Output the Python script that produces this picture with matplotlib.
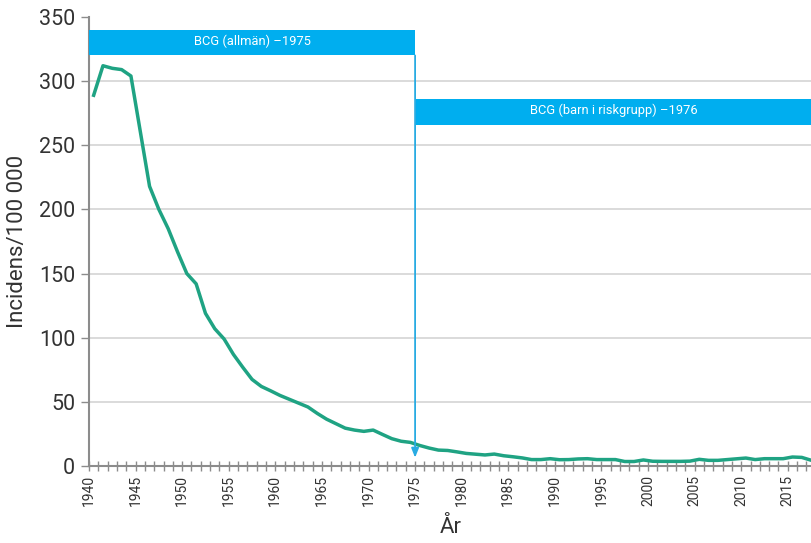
import numpy as np
import matplotlib
matplotlib.use("Agg")
import matplotlib.pyplot as plt
from matplotlib.patches import Rectangle

# Incidence per 100 000, Sweden, 1940-2017
years = np.arange(1940, 2018)
incidence = [
    289, 312, 310, 309, 304, 261, 218, 200, 185, 167,   # 1940-1949
    150, 142, 119, 107, 99, 87, 77, 67.5, 62, 58.6,     # 1950-1959
    55, 52, 49, 46, 41, 36.5, 33, 29.5, 28, 27,         # 1960-1969
    28, 24.6, 21.3, 19.3, 18.4, 16, 14, 12.4, 12.1, 11, # 1970-1979
    9.8, 9.2, 8.6, 9.3, 8.0, 7.2, 6.3, 5.0, 5.0, 5.7,   # 1980-1989
    4.9, 5.0, 5.5, 5.7, 5.0, 5.0, 5.0, 3.5, 3.5, 4.7,   # 1990-1999
    3.7, 3.6, 3.6, 3.6, 3.8, 5.2, 4.4, 4.4, 5.0, 5.6,   # 2000-2009
    6.2, 5.0, 5.7, 5.7, 5.7, 7.0, 6.7, 4.5,             # 2010-2017
]

# Vaccination programmes: (label, start, end, band bottom, band top)
programmes = [
    ("BCG (allmän) \u20131975", 1940, 1975, 320, 340),
    ("BCG (barn i riskgrupp) \u20131976", 1975, 2017.6, 266, 286),
]
change_year = 1975

ylabel = "Incidens/100 000"
xlabel = "År"
yticks = [0, 50, 100, 150, 200, 250, 300, 350]
xlabel_years = np.arange(1940, 2016, 5)

FONT = ["Roboto", "DejaVu Sans"]
plt.rcParams["font.family"] = FONT

LINE = "#1fa383"
BLUE = "#00aeef"
ARROW = "#29abe2"
AXIS = "#8c8c8c"
TEXT = "#333333"

fig = plt.figure(figsize=(8.12, 5.43), dpi=100)
ax = fig.add_axes([89 / 812, 77 / 543, 1 - 89 / 812, (466 - 17) / 543])

# Annual values placed at mid-year
ax.plot(years + 0.5, incidence, color=LINE, lw=2.5, solid_joinstyle="round", zorder=3)

ax.set_xlim(1940, 2017.6)
ax.set_ylim(0, 350)

# Grid
for v in yticks[1:-1]:
    ax.axhline(v, color="#d4d4d4", lw=1.2, zorder=1)

# Programme bands
for label, x0, x1, y0, y1 in programmes:
    ax.add_patch(Rectangle((x0, y0), x1 - x0, y1 - y0, facecolor=BLUE,
                           edgecolor="none", zorder=4, clip_on=False))
    ax.text((x0 + x1) / 2, (y0 + y1) / 2 + 1, label, color="white",
            ha="center", va="center", fontsize=9.3, zorder=5)

# Arrow marking programme change
ax.annotate("", xy=(change_year, 6.5), xytext=(change_year, 320),
            arrowprops=dict(arrowstyle="-|>,head_length=0.55,head_width=0.22",
                            color=ARROW, lw=1.3, shrinkA=0, shrinkB=0),
            zorder=4)

# Axes styling
for s in ("top", "right"):
    ax.spines[s].set_visible(False)
ax.spines["left"].set_color(AXIS)
ax.spines["bottom"].set_color(AXIS)
ax.spines["left"].set_linewidth(1.5)
ax.spines["bottom"].set_linewidth(1.5)

ax.set_yticks(yticks)
ax.set_yticklabels([str(v) for v in yticks])
ax.tick_params(axis="y", colors=AXIS, labelcolor=TEXT, labelsize=15.5,
               length=6, width=1, pad=4)

ax.set_xticks(years, minor=True)
ax.set_xticks(xlabel_years)
ax.set_xticklabels([str(y) for y in xlabel_years], rotation=90)
ax.tick_params(axis="x", which="both", direction="inout", length=7, width=1,
               colors=AXIS, labelcolor=TEXT, labelsize=10, pad=3)

ax.set_ylabel(ylabel, fontsize=16, color=TEXT, labelpad=8)
ax.set_xlabel(xlabel, fontsize=16, color=TEXT, labelpad=8)

fig.savefig("out.png", dpi=100)
